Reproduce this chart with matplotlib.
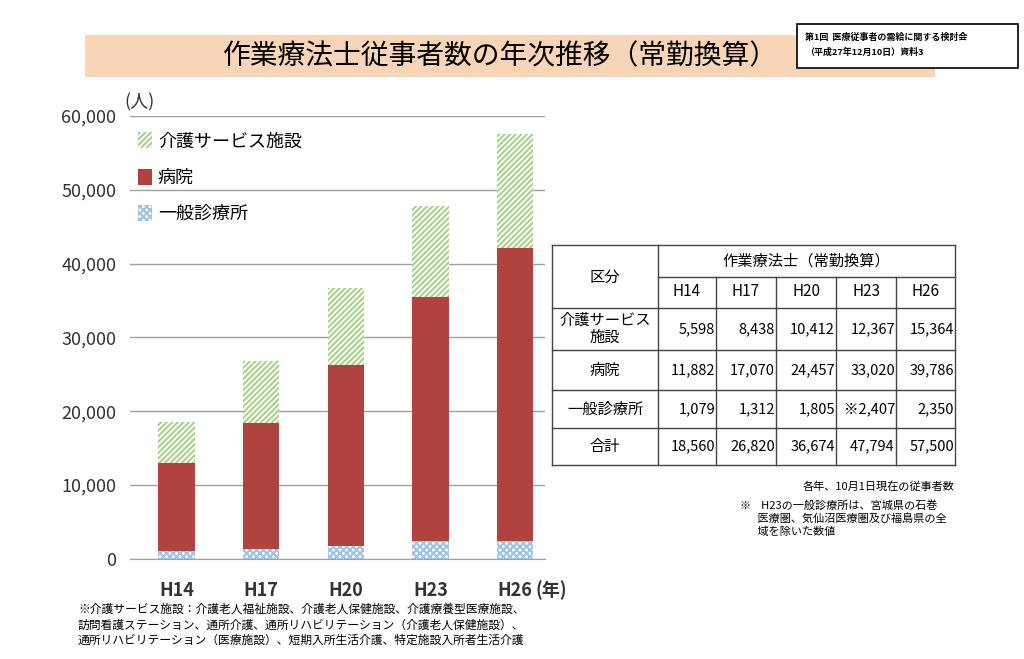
import matplotlib.pyplot as plt
from matplotlib.patches import Rectangle
import numpy as np

plt.rcParams['font.family'] = ['Noto Sans CJK JP', 'DejaVu Sans']
plt.rcParams['hatch.linewidth'] = 1.5

# Dati (persone, equivalente a tempo pieno)
anni = ['H14', 'H17', 'H20', 'H23', 'H26']
kaigo = [5598, 8438, 10412, 12367, 15364]
byoin = [11882, 17070, 24457, 33020, 39786]
shinryo = [1079, 1312, 1805, 2407, 2350]
gokei = [18560, 26820, 36674, 47794, 57500]

fig = plt.figure(figsize=(10.24, 6.59), dpi=100)

# Sfondo / titolo
bg = fig.add_axes([0, 0, 1, 1])
bg.set_xlim(0, 1024)
bg.set_ylim(659, 0)
bg.axis('off')
bg.add_patch(Rectangle((85, 35), 850, 42, facecolor='#F9D5B8', edgecolor='none'))
bg.text(500, 56, '作業療法士従事者数の年次推移（常勤換算）', fontsize=20, ha='center', va='center')
bg.add_patch(Rectangle((797, 24), 221, 44, facecolor='white', edgecolor='black', linewidth=1.2))
bg.text(805, 37, '第1回  医療従事者の需給に関する検討会', fontsize=6.5, va='center', weight='bold')
bg.text(805, 52, '（平成27年12月10日）資料3', fontsize=6.5, va='center', weight='bold')

# Grafico a barre impilate
ax = fig.add_axes([0.127, 0.152, 0.405, 0.672])
x = np.arange(len(anni))
w = 0.43
ax.bar(x, shinryo, w, facecolor='white', edgecolor='#9DC3E6', hatch='xxxxx', linewidth=0, label='一般診療所')
ax.bar(x, byoin, w, bottom=shinryo, color='#B0423F', label='病院')
ax.bar(x, kaigo, w, bottom=np.array(shinryo) + np.array(byoin), facecolor='white',
       edgecolor='#A9D18E', hatch='//////', linewidth=0, label='介護サービス施設')
ax.set_ylim(0, 60000)
ax.set_xlim(-0.55, 4.35)
ax.set_yticks(range(0, 60001, 10000))
ax.set_yticklabels([f'{v:,}' for v in range(0, 60001, 10000)], fontsize=13, color='#333333')
ax.set_xticks(x)
ax.set_xticklabels(anni, fontsize=13, weight='bold', color='#333333')
ax.yaxis.grid(True, color='#A0A0A0', linewidth=1)
ax.set_axisbelow(True)
for s in ['top', 'right', 'left']:
    ax.spines[s].set_visible(False)
ax.spines['bottom'].set_color('#A0A0A0')
ax.tick_params(axis='y', length=0, pad=10)
ax.tick_params(axis='x', length=0, pad=16)
ax.text(4.24, -4300, '(年)', fontsize=13, weight='bold', color='#333333', va='center')
ax.text(-0.62, 61800, '(人)', fontsize=13, color='#333333', va='center')
h, l = ax.get_legend_handles_labels()
ax.legend(h[::-1], l[::-1], loc='upper left', bbox_to_anchor=(-0.02, 1.0), frameon=False,
          fontsize=13, handlelength=0.8, handleheight=1.0, handletextpad=0.3, labelspacing=1.0)

# Tabella
cols = [552, 658, 716, 776, 836, 896, 955]
rows = [245, 277, 308, 350, 390, 428, 465]
for yy in rows:
    x0 = 658 if yy == 277 else 552
    bg.plot([x0, 955], [yy, yy], color='#444444', lw=1)
for i, xx in enumerate(cols):
    y0 = 277 if 1 < i < 6 else 245
    bg.plot([xx, xx], [y0, 465], color='#444444', lw=1)
bg.text(605, 277, '区分', fontsize=11, ha='center', va='center')
bg.text(806, 261, '作業療法士（常勤換算）', fontsize=11, ha='center', va='center')
for i, a in enumerate(anni):
    bg.text((cols[i + 1] + cols[i + 2]) / 2, 292, a, fontsize=11, ha='center', va='center')
righe = [('介護サービス\n施設', kaigo), ('病院', byoin), ('一般診療所', shinryo), ('合計', gokei)]
for r, (nome, vals) in enumerate(righe):
    yc = (rows[r + 2] + rows[r + 3]) / 2
    bg.text(605, yc, nome, fontsize=11, ha='center', va='center', linespacing=1.0)
    for i, v in enumerate(vals):
        s = f'{v:,}'
        if nome == '一般診療所' and i == 3:
            s = '※' + s
        bg.text(cols[i + 2] - 1, yc, s, fontsize=10.5, ha='right', va='center')
bg.text(955, 487, '各年、10月1日現在の従事者数', fontsize=8, ha='right', va='center')
bg.text(740, 500, '※    H23の一般診療所は、宮城県の石巻\n       医療圏、気仙沼医療圏及び福島県の全\n       域を除いた数値',
        fontsize=8, ha='left', va='top', linespacing=1.3)

# Nota in basso
bg.text(78, 603, '※介護サービス施設：介護老人福祉施設、介護老人保健施設、介護療養型医療施設、\n'
        '訪問看護ステーション、通所介護、通所リハビリテーション（介護老人保健施設）、\n'
        '通所リハビリテーション（医療施設）、短期入所生活介護、特定施設入所者生活介護',
        fontsize=8.5, ha='left', va='top', linespacing=1.25)

fig.savefig('out.png', dpi=100)
